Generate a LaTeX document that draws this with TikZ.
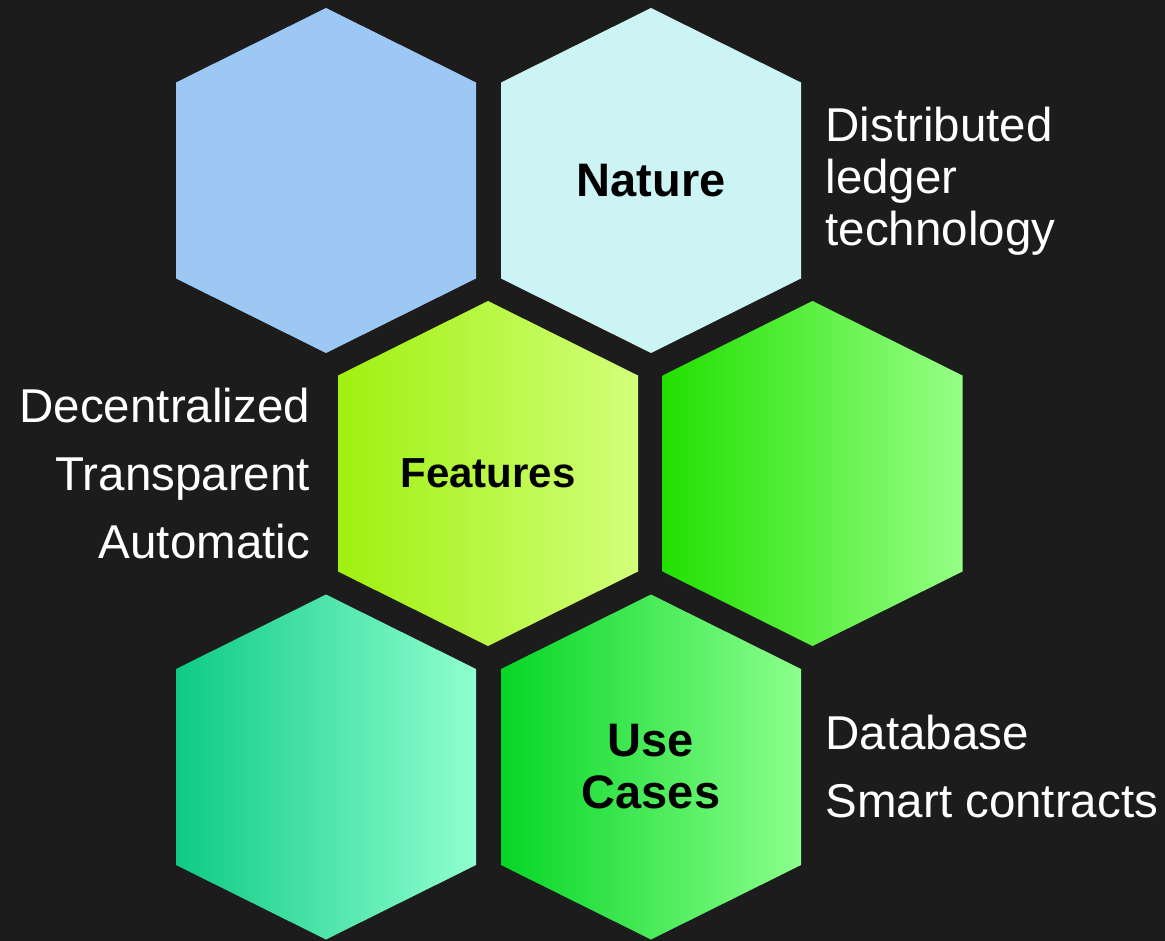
\documentclass[tikz,border=0pt]{standalone}
\usepackage{fontspec}
\setmainfont{Liberation Sans}
\usetikzlibrary{positioning}
\definecolor{bg}{HTML}{1C1C1C}
\definecolor{skyblue}{RGB}{157,200,244}
\definecolor{icecyan}{RGB}{204,244,244}
\definecolor{limeL}{RGB}{160,240,16}
\definecolor{limeR}{RGB}{210,255,122}
\definecolor{greenL}{RGB}{34,224,0}
\definecolor{greenR}{RGB}{150,255,134}
\definecolor{mintL}{RGB}{14,203,132}
\definecolor{mintR}{RGB}{144,255,208}
\definecolor{leafL}{RGB}{6,214,38}
\definecolor{leafR}{RGB}{140,255,140}

% hexagon cell: centre x, centre y, left colour, right colour
\newcommand{\hexcell}[4]{%
\shade[left color=#3,right color=#4] (#1-150,#2-98)--(#1,#2-172.5)--(#1+150,#2-98)--(#1+150,#2+98)--(#1,#2+172.5)--(#1-150,#2+98)--cycle;}

\begin{document}
\begin{tikzpicture}[line cap=round,line join=round,x=1pt,y=-1pt,
  hexlabel/.style={text=black,font=\bfseries\fontsize{47}{52}\selectfont,align=center},
  sidetext/.style={text=white,font=\fontsize{47.5}{52}\selectfont},
  listtext/.style={text=white,font=\fontsize{47.5}{68}\selectfont}]
\fill[bg] (0,0) rectangle (1165,941);
% top row
\hexcell{326}{180.5}{skyblue}{skyblue}
\hexcell{651}{180.5}{icecyan}{icecyan}
% middle row
\hexcell{488}{473.5}{limeL}{limeR}
\hexcell{812.5}{473.5}{greenL}{greenR}
% bottom row
\hexcell{326}{767}{mintL}{mintR}
\hexcell{651}{767}{leafL}{leafR}
% labels
\node[hexlabel] (nature) at (651,181) {Nature};
\node[hexlabel,font=\bfseries\fontsize{42}{52}\selectfont] (features) at (488,473) {Features};
\node[hexlabel] (usecases) at (651,767) {Use\\Cases};
\node[sidetext,align=left,anchor=west] (ledger) at (822,181) {Distributed\\ledger\\technology};
\node[listtext,align=right,anchor=east] (props) at (313.5,474) {Decentralized\\Transparent\\Automatic};
\node[listtext,align=left,anchor=west] (uses) at (822,767) {Database\\Smart contracts};
\end{tikzpicture}
\end{document}
